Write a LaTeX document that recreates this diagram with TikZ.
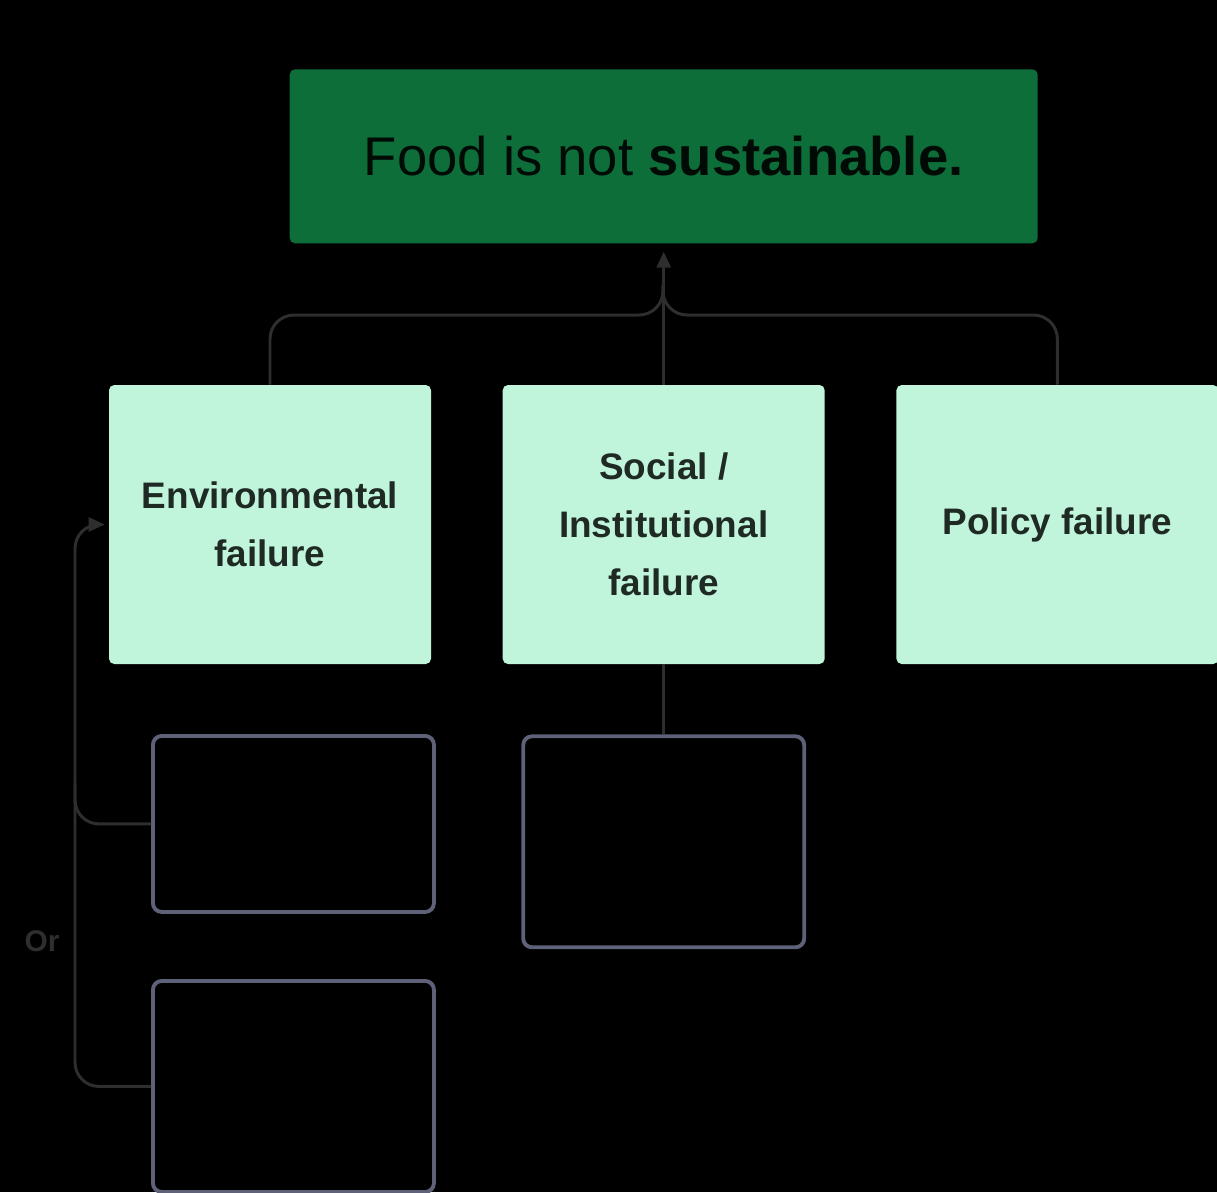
\documentclass[tikz,border=0pt]{standalone}
\usepackage{fontspec}
\setmainfont{Liberation Sans}
\usetikzlibrary{positioning,arrows.meta}

\definecolor{rootgreen}{HTML}{0D6E3A}
\definecolor{mint}{HTML}{C0F5DC}
\definecolor{inkdark}{HTML}{1F2A24}
\definecolor{wire}{HTML}{2E2E2E}
\definecolor{slate}{HTML}{5F6178}

\begin{document}
\begin{tikzpicture}[
node distance=1.42cm,
root/.style={fill=rootgreen, rounded corners=3pt, minimum width=14.96cm, minimum height=3.48cm, font=\fontsize{31}{37}\selectfont, text=black!90!rootgreen},
cause/.style={fill=mint, rounded corners=3pt, minimum width=6.44cm, minimum height=5.58cm, align=center, font=\fontsize{21}{33}\selectfont\bfseries, text=inkdark},
hollow/.style={draw=slate, line width=2.2pt, rounded corners=5pt, minimum width=5.62cm},
link/.style={wire, line width=1.7pt, rounded corners=0.48cm},
tip/.style={-{Triangle[length=0.32cm, width=0.28cm]}}
]
\fill[black] (0,0) rectangle (24.34,-23.84);
\useasboundingbox (0,0) rectangle (24.34,-23.84);

\node[cause] (env) at (5.40,-10.49) {Environmental\\failure};
\node[cause, right=of env] (social) {Social /\\Institutional\\failure};
\node[cause, right=of social] (policy) {Policy failure};
\node[root, above=2.82cm of social] (root) {Food is not \textbf{sustainable.}};

\node[hollow, minimum height=3.52cm, anchor=north west] (optA) at (3.02,-14.68) {};
\node[hollow, minimum height=4.22cm, anchor=north west] (optB) at (3.02,-19.58) {};
\node[hollow, minimum height=4.22cm, below=1.4cm of social] (optC) {};

\coordinate (hub) at (13.26,-6.30);
\coordinate (rail) at (1.50,-12);

% into the root
\draw[link, tip, shorten >=0.16cm] (social.north) -- (root.south);
\draw[link] (env.north) |- (hub) -- ++(0,0.6);
\draw[link] (policy.north) |- (hub) -- ++(0,0.6);

\draw[link] (social.south) -- (optC.north);

% either option feeds environmental failure
\draw[link, tip, shorten >=0.08cm] (optA.west) -| (rail |- env.west) -- (env.west);
\draw[link] (optB.west) -| ([yshift=0.8cm]rail |- optA.west);
\node[font=\fontsize{17}{20}\selectfont\bfseries, text=wire] (or) at (0.84,-18.82) {Or};
\end{tikzpicture}
\end{document}
